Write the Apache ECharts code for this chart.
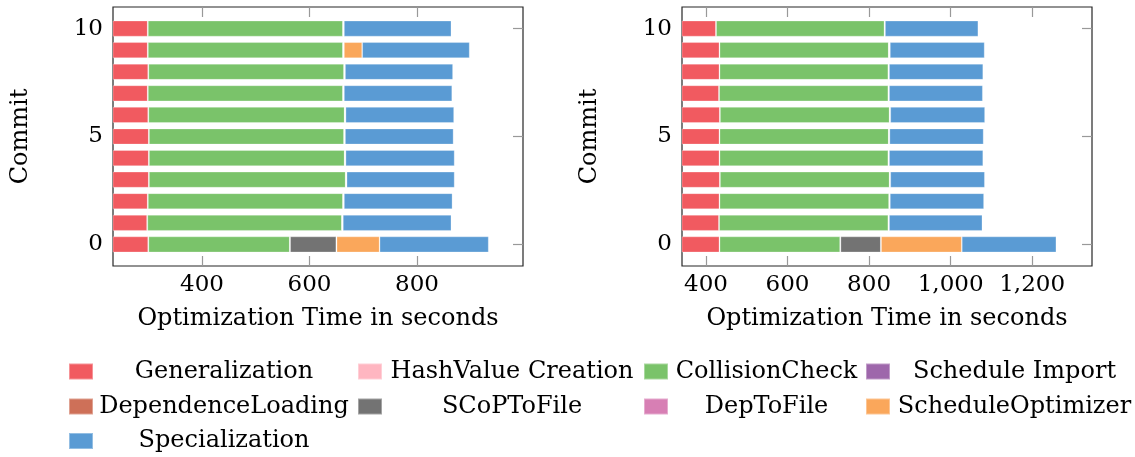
<!DOCTYPE html>
<html>
<head>
<meta charset="utf-8">
<script src="https://cdn.jsdelivr.net/npm/echarts@6/dist/echarts.min.js"></script>
<style>
  html, body { margin: 0; padding: 0; background: #fff; }
  #chart { width: 1135px; height: 457px; }
</style>
</head>
<body>
<div id="chart"></div>
<script>
// Commits on the category axis (one bar per commit)
const commits = [0, 1, 2, 3, 4, 5, 6, 7, 8, 9, 10];
const commitTicks = [0, 5, 10];

// Phase names, in stacking order
const phases = ['Generalization', 'HashValue Creation', 'CollisionCheck', 'Schedule Import',
  'DependenceLoading', 'SCoPToFile', 'DepToFile', 'ScheduleOptimizer', 'Specialization'];
const phaseColors = ['#F15A60', '#FFB6C1', '#7AC36A', '#9E67AB',
  '#CE7058', '#737373', '#D77FB4', '#FAA75B', '#5A9BD4'];

// Left panel: seconds per phase, commit 0..10
const leftGeneralization    = [300, 298, 299, 301, 301, 301, 300, 299, 300, 299, 299];
const leftHashValueCreation = [0.3, 0.3, 0.3, 0.3, 0.3, 0.3, 0.3, 0.3, 0.3, 0.3, 0.3];
const leftCollisionCheck    = [263, 362, 363, 366, 364, 363, 365, 363, 364, 363, 363];
const leftScheduleImport    = [0.3, 0.3, 0.3, 0.3, 0.3, 0.3, 0.3, 0.3, 0.3, 0.3, 0.3];
const leftDependenceLoading = [0.3, 0.3, 0.3, 0.3, 0.3, 0.3, 0.3, 0.3, 0.3, 0.3, 0.3];
const leftSCoPToFile        = [86, 0.6, 0.6, 0.6, 0.6, 0.6, 0.6, 0.6, 0.6, 0.6, 0.6];
const leftDepToFile         = [0.5, 0.5, 0.5, 0.5, 0.5, 0.5, 0.5, 0.5, 0.5, 0.5, 0.5];
const leftScheduleOptimizer = [80, 0, 0, 0, 0, 0, 0, 0, 0, 34, 0];
const leftSpecialization    = [203, 202, 202, 201, 203, 202, 202, 201.5, 201, 200, 200];

// Right panel: seconds per phase, commit 0..10
const rightGeneralization    = [433, 432, 433, 434, 433, 433, 434, 432, 433, 433, 424.5];
const rightHashValueCreation = [0.3, 0.3, 0.3, 0.3, 0.3, 0.3, 0.3, 0.3, 0.3, 0.3, 0.3];
const rightCollisionCheck    = [296, 415, 416, 416, 414, 415, 416, 415, 414, 415, 413];
const rightScheduleImport    = [0.3, 0.3, 0.3, 0.3, 0.3, 0.3, 0.3, 0.3, 0.3, 0.3, 0.3];
const rightDependenceLoading = [0.3, 0.3, 0.3, 0.3, 0.3, 0.3, 0.3, 0.3, 0.3, 0.3, 0.3];
const rightSCoPToFile        = [99, 0.6, 0.6, 0.6, 0.6, 0.6, 0.6, 0.6, 0.6, 0.6, 0.3];
const rightDepToFile         = [0.5, 0.5, 0.5, 0.5, 0.5, 0.5, 0.5, 0.5, 0.5, 1.5, 0.3];
const rightScheduleOptimizer = [198, 0, 0, 0, 0, 0, 0, 0, 0, 0, 0];
const rightSpecialization    = [232, 229, 231, 232, 231, 231, 232.5, 230, 231, 232.5, 229];

// X tick labels per panel
const leftXTicks  = [400, 600, 800];
const rightXTicks = [400, 600, 800, 1000, 1200];

const leftSeries = [leftGeneralization, leftHashValueCreation, leftCollisionCheck, leftScheduleImport,
  leftDependenceLoading, leftSCoPToFile, leftDepToFile, leftScheduleOptimizer, leftSpecialization];
const rightSeries = [rightGeneralization, rightHashValueCreation, rightCollisionCheck, rightScheduleImport,
  rightDependenceLoading, rightSCoPToFile, rightDepToFile, rightScheduleOptimizer, rightSpecialization];

const FONT = 'DejaVu Serif';

// Commit axis runs one step past each end, so the bars sit inside the frame
const yCats = [String(commits[0] - 1)].concat(commits.map(String), [String(commits[commits.length - 1] + 1)]);
const pad = v => ['-'].concat(v, ['-']);
const isTick = (i, v) => commitTicks.map(String).indexOf(v) >= 0;

function yAxisPair(gridIndex) {
  const base = {
    type: 'category', gridIndex, data: yCats, boundaryGap: false,
    axisLine: { show: false },
    axisTick: { show: true, inside: true, length: 10, interval: isTick, lineStyle: { color: '#999', width: 1.2 } },
    splitLine: { show: false }
  };
  return [
    Object.assign({}, base, {
      position: 'left',
      name: 'Commit', nameLocation: 'middle', nameGap: 80, nameRotate: 90,
      nameTextStyle: { fontFamily: FONT, fontSize: 24, color: '#000' },
      axisLabel: { show: true, interval: isTick, margin: 10, fontFamily: FONT, fontSize: 23, color: '#000' }
    }),
    Object.assign({}, base, { position: 'right', axisLabel: { show: false } })
  ];
}

function xAxisPair(gridIndex, min, max, ticks) {
  const fmt = v => Number(v).toLocaleString('en-US');
  const base = {
    type: 'value', gridIndex, min, max,
    axisLine: { show: false },
    splitLine: { show: false },
    axisTick: { show: true, inside: true, length: 10, customValues: ticks, lineStyle: { color: '#999', width: 1.2 } }
  };
  return [
    Object.assign({}, base, {
      position: 'bottom',
      name: 'Optimization Time in seconds', nameLocation: 'middle', nameGap: 41,
      nameTextStyle: { fontFamily: FONT, fontSize: 24, color: '#000' },
      axisLabel: { show: true, customValues: ticks, formatter: fmt, margin: 8, fontFamily: FONT, fontSize: 23, color: '#000' }
    }),
    Object.assign({}, base, { position: 'top', axisLabel: { show: false } })
  ];
}

const series = [];
[leftSeries, rightSeries].forEach((panel, p) => {
  panel.forEach((vals, k) => {
    series.push({
      type: 'bar', name: phases[k], stack: 'panel' + p,
      xAxisIndex: p * 2, yAxisIndex: p * 2,
      barWidth: 16,
      data: pad(vals),
      itemStyle: { color: phaseColors[k], borderColor: 'rgba(255,255,255,0.35)', borderWidth: 0.8 },
      emphasis: { disabled: true }
    });
  });
});

// Legend: four columns, each entry centred in its column cell
const legendCols = [
  { left: 68,  textWidth: 252, items: ['Generalization', 'DependenceLoading', 'Specialization'] },
  { left: 357, textWidth: 250, items: ['HashValue Creation', 'SCoPToFile'] },
  { left: 643, textWidth: 187, items: ['CollisionCheck', 'DepToFile'] },
  { left: 865, textWidth: 239, items: ['Schedule Import', 'ScheduleOptimizer'] }
];
const legendRowCenters = [371.5, 406.5, 441];
const legends = [];
legendCols.forEach(col => {
  col.items.forEach((name, r) => {
    legends.push({
      data: [name], left: col.left, top: legendRowCenters[r] - 12,
      padding: 0, icon: 'rect', itemWidth: 24, itemHeight: 16, selectedMode: false,
      formatter: '{t|{name}}',
      textStyle: {
        rich: { t: { width: col.textWidth, align: 'center', fontFamily: FONT, fontSize: 24, lineHeight: 24, color: '#000' } }
      }
    });
  });
});

const chart = echarts.init(document.getElementById('chart'), null, { renderer: 'canvas' });
chart.setOption({
  animation: false,
  backgroundColor: '#fff',
  grid: [
    { left: 113, top: 7, width: 410, height: 259, show: true, borderColor: '#262626', borderWidth: 1.2, backgroundColor: 'transparent' },
    { left: 682, top: 7, width: 410, height: 259, show: true, borderColor: '#262626', borderWidth: 1.2, backgroundColor: 'transparent' }
  ],
  xAxis: xAxisPair(0, 234.4, 997.2, leftXTicks).concat(xAxisPair(1, 341.2, 1346.8, rightXTicks)),
  yAxis: yAxisPair(0).concat(yAxisPair(1)),
  legend: legends,
  series
});
</script>
</body>
</html>
